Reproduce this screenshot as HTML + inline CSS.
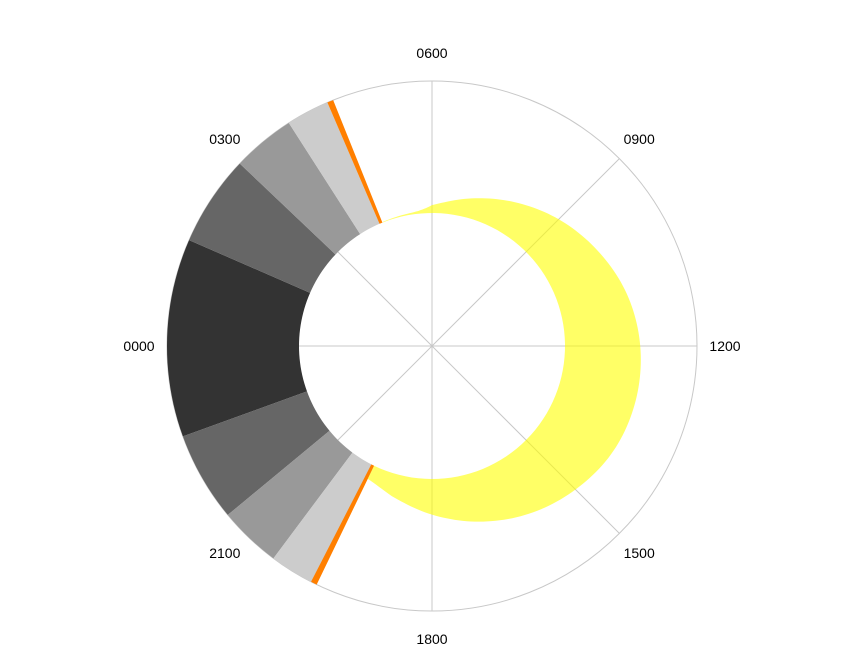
<!DOCTYPE html>
<html><head><meta charset="utf-8"><style>
html,body{margin:0;padding:0;background:#fff;}
svg{display:block;font-family:"Liberation Sans",sans-serif;}
</style></head><body>
<svg id="chart" width="864" height="672" viewBox="0 0 864 672">
<g id="grid"></g>
<g id="bands"></g>
<g id="sun"></g>
<g id="labels"></g>
</svg>
<script>
// Data
const bandStarts = [22.67, 21.36, 1.57, 20.45, 2.9, 19.8, 3.82];
const bandEnds   = [1.57, 22.67, 2.9, 21.36, 3.82, 20.45, 4.45];
const bandShades = ["#333333", "#666666", "#666666", "#999999", "#999999", "#cccccc", "#cccccc"];
const sunriseHours = [4.45, 19.72];
const dayHours  = [4.55, 5, 5.6, 6, 7, 8, 9, 10, 11, 12, 13, 14, 15, 16, 17, 18, 19, 19.72];
const dayValues = [0.004, 0.008, 0.02, 0.06, 0.15, 0.25, 0.35, 0.44, 0.52, 0.57, 0.59, 0.58, 0.53, 0.46, 0.37, 0.27, 0.17, 0.11];
const tickHours = [0, 3, 6, 9, 12, 15, 18, 21];
const tickLabels = ["0000", "0300", "0600", "0900", "1200", "1500", "1800", "2100"];

const NS = "http://www.w3.org/2000/svg";
const cx = 432, cy = 346, R0 = 133, R1 = 265;
function rad(v){ return R0 + v * (R1 - R0); }
function ang(h){ return h * 15 * Math.PI / 180; }
function pt(h, r){ const a = ang(h); return [cx - r * Math.cos(a), cy - r * Math.sin(a)]; }
function mk(tag, attrs, parent){ const e = document.createElementNS(NS, tag); for (const k in attrs) e.setAttribute(k, attrs[k]); parent.appendChild(e); return e; }
function arcPath(h0, h1, v0, v1){
  let span = h1 - h0; if (span < 0) span += 24;
  const n = Math.max(4, Math.ceil(span * 8)); let d = "";
  for (let i = 0; i <= n; i++){ const p = pt(h0 + span * i / n, rad(v1)); d += (i ? "L" : "M") + p[0].toFixed(2) + "," + p[1].toFixed(2); }
  for (let i = n; i >= 0; i--){ const p = pt(h0 + span * i / n, rad(v0)); d += "L" + p[0].toFixed(2) + "," + p[1].toFixed(2); }
  return d + "Z";
}

const grid = document.getElementById("grid");
const outer = mk("circle", {cx: cx, cy: cy, r: R1, fill: "none", stroke: "#c8c8c8", "stroke-width": 1}, grid);


tickHours.forEach(h => {
  const p = pt(h, R1);
  const l = mk("line", {x1: cx, y1: cy, x2: p[0], y2: p[1], stroke: "#c8c8c8", "stroke-width": 1}, grid);
  
  
});

const bands = document.getElementById("bands");
bandStarts.forEach((s, i) => {
  const p = mk("path", {d: arcPath(s, bandEnds[i], 0, 1), fill: bandShades[i]}, bands);
  
  
});
sunriseHours.forEach(h => {
  const p = mk("path", {d: arcPath(h, h + 0.09, 0, 1), fill: "#ff7f00"}, bands);
  
  
});

function interp(i, t){
  const n = dayValues.length;
  const p0 = dayValues[Math.max(0, i - 1)], p1 = dayValues[i], p2 = dayValues[Math.min(n - 1, i + 1)], p3 = dayValues[Math.min(n - 1, i + 2)];
  const t2 = t * t, t3 = t2 * t;
  return 0.5 * (2 * p1 + (-p0 + p2) * t + (2 * p0 - 5 * p1 + 4 * p2 - p3) * t2 + (-p0 + 3 * p1 - 3 * p2 + p3) * t3);
}
const sun = document.getElementById("sun");
let d = "", first = true;
for (let i = 0; i < dayHours.length - 1; i++){
  const steps = 12;
  for (let s = 0; s < steps + (i === dayHours.length - 2 ? 1 : 0); s++){
    const t = s / steps;
    const h = dayHours[i] + (dayHours[i + 1] - dayHours[i]) * t;
    const v = Math.max(0, interp(i, t));
    const p = pt(h, rad(v));
    d += (first ? "M" : "L") + p[0].toFixed(2) + "," + p[1].toFixed(2); first = false;
  }
}
const nIn = 80, h0 = dayHours[0], h1 = dayHours[dayHours.length - 1];
for (let i = nIn; i >= 0; i--){ const p = pt(h0 + (h1 - h0) * i / nIn, R0); d += "L" + p[0].toFixed(2) + "," + p[1].toFixed(2); }
const sp = mk("path", {d: d + "Z", fill: "#ffff00", "fill-opacity": 0.6}, sun);



const labels = document.getElementById("labels");
tickHours.forEach((h, i) => {
  const p = pt(h, 293);
  const t = mk("text", {x: p[0], y: p[1] + 5, "text-anchor": "middle", "font-size": 14, fill: "#000"}, labels);
  t.textContent = tickLabels[i];
  
  
});
</script>
</body></html>
